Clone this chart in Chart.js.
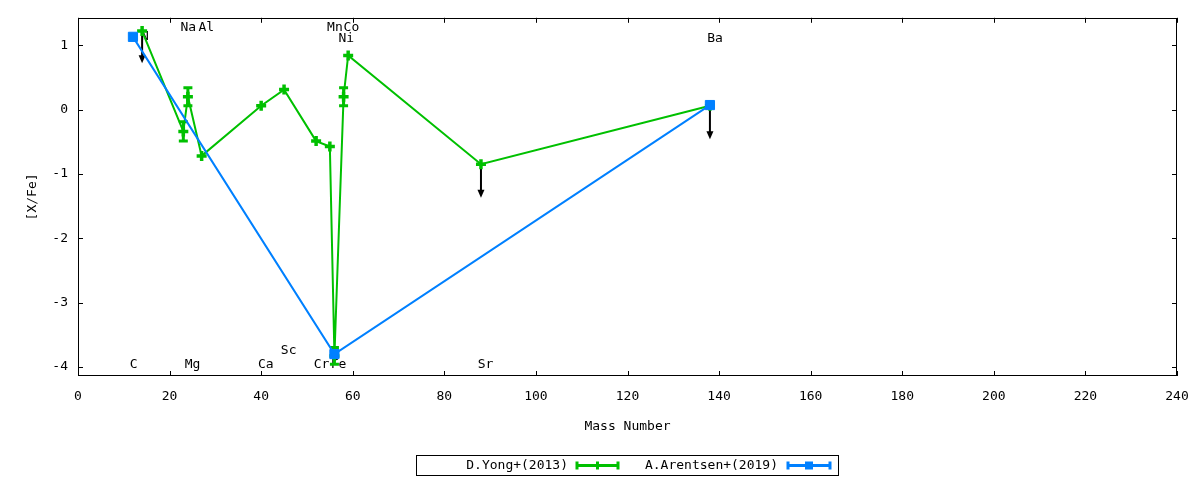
<!DOCTYPE html>
<html><head><meta charset="utf-8">
<script src="https://cdn.jsdelivr.net/npm/chart.js@4/dist/chart.umd.min.js"></script>
<style>html,body{margin:0;padding:0;background:#fff}#wrap{width:1200px;height:480px}</style>
</head><body><div id="wrap"><canvas id="c" width="1200" height="480"></canvas></div>
<script>
// ---- data ----
const yongMass  = [14, 23, 24, 27, 40, 45, 52, 55, 56, 58, 59, 88, 138];
const yongValue = [1.22, -0.34, 0.20, -0.72, 0.06, 0.31, -0.49, -0.575, -3.83, 0.20, 0.84, -0.85, 0.06];
const yongError = [0, 0.15, 0.14, 0, 0, 0, 0, 0, 0.13, 0.14, 0, 0, 0];
const arentsenMass  = [12, 56, 138];
const arentsenValue = [1.13, -3.80, 0.07];
const arentsenError = [0, 0, 0];
// upper limits (arrows)
const limitMass = [14, 88, 138];
const limitFrom = [1.22, -0.85, 0.06];
const limitTo   = [0.72, -1.37, -0.46];
// element labels
const elementNames = ['C', 'N', 'Na', 'Al', 'Mg', 'Ca', 'Sc', 'Cr', 'Fe', 'Mn', 'Co', 'Ni', 'Sr', 'Ba'];
const elementX     = [12.15, 14.6, 24.1, 28.0, 25.0, 41.0, 46.0, 53.2, 56.9, 56.1, 59.7, 58.6, 89.0, 139.1];
const elementY     = [-3.97, 1.13, 1.27, 1.27, -3.97, -3.97, -3.74, -3.97, -3.97, 1.27, 1.27, 1.11, -3.97, 1.11];
// ticks
const xTicks = [0, 20, 40, 60, 80, 100, 120, 140, 160, 180, 200, 220, 240];
const yTicks = [-4, -3, -2, -1, 0, 1];
const seriesNames = ['D.Yong+(2013)', 'A.Arentsen+(2019)'];

const GREEN = '#00c000', BLUE = '#0080ff';
const FONT = "'DejaVu Sans Mono', monospace";
const errors = [yongError, arentsenError];

function pts(m, v) { return m.map((x, i) => ({x: x, y: v[i]})); }

const framePlugin = {
  id: 'frame',
  beforeDatasetsDraw(chart) {
    const {ctx, chartArea: a, scales: {x, y}} = chart;
    ctx.save();
    // element labels
    ctx.fillStyle = '#000';
    ctx.font = '13px ' + FONT;
    ctx.textAlign = 'center';
    ctx.textBaseline = 'middle';
    elementNames.forEach((n, i) => {
      ctx.fillText(n, x.getPixelForValue(elementX[i]), y.getPixelForValue(elementY[i]));
    });
    // frame
    ctx.strokeStyle = '#000';
    ctx.lineWidth = 1;
    ctx.strokeRect(Math.round(a.left) + 0.5, Math.round(a.top) + 0.5,
      Math.round(a.right - a.left) - 1, Math.round(a.bottom - a.top) - 1);
    ctx.beginPath();
    const tl = 5;
    xTicks.forEach(v => {
      const px = Math.round(x.getPixelForValue(v)) + 0.5;
      ctx.moveTo(px, a.bottom); ctx.lineTo(px, a.bottom - tl);
      ctx.moveTo(px, a.top); ctx.lineTo(px, a.top + tl);
    });
    yTicks.forEach(v => {
      const py = Math.round(y.getPixelForValue(v)) + 0.5;
      ctx.moveTo(a.left, py); ctx.lineTo(a.left + tl, py);
      ctx.moveTo(a.right, py); ctx.lineTo(a.right - tl, py);
    });
    ctx.stroke();
    // upper-limit arrows
    ctx.strokeStyle = '#000';
    ctx.fillStyle = '#000';
    ctx.lineWidth = 2;
    limitMass.forEach((m, i) => {
      const px = x.getPixelForValue(m);
      const y0 = y.getPixelForValue(limitFrom[i]);
      const y1 = y.getPixelForValue(limitTo[i]);
      ctx.beginPath();
      ctx.moveTo(px, y0); ctx.lineTo(px, y1 - 6);
      ctx.stroke();
      ctx.beginPath();
      ctx.moveTo(px - 3.5, y1 - 8); ctx.lineTo(px + 3.5, y1 - 8); ctx.lineTo(px, y1);
      ctx.closePath(); ctx.fill();
    });
    ctx.restore();
  },
  afterDatasetDraw(chart, args) {
    const {ctx, scales: {x, y}} = chart;
    const ds = chart.data.datasets[args.index];
    const err = errors[args.index];
    ctx.save();
    ctx.strokeStyle = ds.borderColor;
    ctx.lineWidth = 3;
    ds.data.forEach((p, i) => {
      const e = err[i];
      if (!e) return;
      const px = x.getPixelForValue(p.x);
      const ya = y.getPixelForValue(p.y + e), yb = y.getPixelForValue(p.y - e);
      ctx.beginPath();
      ctx.moveTo(px, ya); ctx.lineTo(px, yb);
      ctx.moveTo(px - 4.5, ya); ctx.lineTo(px + 4.5, ya);
      ctx.moveTo(px - 4.5, yb); ctx.lineTo(px + 4.5, yb);
      ctx.stroke();
    });
    ctx.restore();
  },
  afterDraw(chart) {
    const {ctx} = chart;
    ctx.save();
    ctx.strokeStyle = '#000';
    ctx.lineWidth = 1;
    ctx.strokeRect(416.5, 455.5, 422, 20);
    ctx.font = '13px ' + FONT;
    ctx.textAlign = 'right';
    ctx.textBaseline = 'middle';
    ctx.fillStyle = '#000';
    const items = [
      {tx: 568, x1: 576, x2: 619},
      {tx: 778, x1: 787, x2: 831}
    ];
    const yc = 465.5;
    chart.data.datasets.forEach((ds, i) => {
      const it = items[i];
      ctx.fillStyle = '#000';
      ctx.fillText(ds.label, it.tx, yc);
      ctx.strokeStyle = ds.borderColor;
      ctx.fillStyle = ds.borderColor;
      ctx.lineWidth = 3;
      ctx.beginPath();
      ctx.moveTo(it.x1, yc); ctx.lineTo(it.x2, yc);
      ctx.moveTo(it.x1 + 1, yc - 4); ctx.lineTo(it.x1 + 1, yc + 4);
      ctx.moveTo(it.x2 - 1, yc - 4); ctx.lineTo(it.x2 - 1, yc + 4);
      ctx.stroke();
      const mx = (it.x1 + it.x2) / 2;
      if (ds.pointStyle === 'rect') {
        ctx.fillRect(mx - 4, yc - 4, 8, 8);
      } else {
        ctx.beginPath();
        ctx.moveTo(mx, yc - 4); ctx.lineTo(mx, yc + 4);
        ctx.stroke();
      }
    });
    ctx.restore();
  }
};

new Chart(document.getElementById('c'), {
  type: 'line',
  data: {
    datasets: [
      {
        label: seriesNames[0],
        data: pts(yongMass, yongValue),
        borderColor: GREEN, backgroundColor: GREEN,
        borderWidth: 2, tension: 0, fill: false,
        pointStyle: 'cross', pointRadius: 5, pointBorderWidth: 3.5,
        pointBorderColor: GREEN, pointBackgroundColor: GREEN,
        order: 1
      },
      {
        label: seriesNames[1],
        data: pts(arentsenMass, arentsenValue),
        borderColor: BLUE, backgroundColor: BLUE,
        borderWidth: 2, tension: 0, fill: false,
        pointStyle: 'rect', pointRadius: 6.5, pointBorderWidth: 1,
        pointBorderColor: BLUE, pointBackgroundColor: BLUE,
        order: 0
      }
    ]
  },
  options: {
    responsive: false,
    animation: false,
    events: [],
    devicePixelRatio: 1,
    layout: {padding: {left: 0, right: 23, top: 10, bottom: 45}},
    plugins: {legend: {display: false}, tooltip: {enabled: false}},
    scales: {
      x: {
        type: 'linear', min: 0, max: 240,
        grid: {display: false, drawTicks: false},
        border: {display: false},
        afterBuildTicks: s => { s.ticks = xTicks.map(v => ({value: v})); },
        afterFit: s => { s.height = 59; s.paddingLeft = 0; s.paddingRight = 0; },
        ticks: {
          color: '#000', padding: 13, maxRotation: 0, autoSkip: false,
          font: {family: FONT, size: 13},
          callback: v => String(v)
        },
        title: {
          display: true, text: 'Mass Number', color: '#000',
          font: {family: FONT, size: 13}, padding: {top: 0, bottom: 1}
        }
      },
      y: {
        type: 'linear', min: -4.141, max: 1.426,
        grid: {display: false, drawTicks: false},
        border: {display: false},
        afterBuildTicks: s => { s.ticks = yTicks.map(v => ({value: v})); },
        afterFit: s => { s.width = 78; },
        ticks: {
          color: '#000', padding: 10, autoSkip: false,
          font: {family: FONT, size: 13},
          callback: v => String(v)
        },
        title: {
          display: true, text: '[X/Fe]', color: '#000',
          font: {family: FONT, size: 13}, padding: {top: 25, bottom: 0}
        }
      }
    }
  },
  plugins: [framePlugin]
});
</script>
</body></html>
